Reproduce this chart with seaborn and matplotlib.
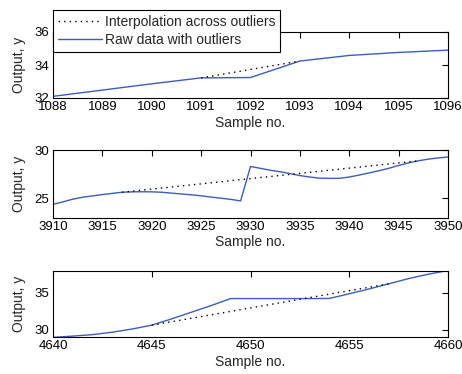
import numpy as np
import pandas as pd
import matplotlib
matplotlib.use("Agg")
import matplotlib.pyplot as plt
import seaborn as sns

# --- segment 1: samples 1088-1096 ---
x1 = [1088, 1089, 1090, 1091, 1092, 1093, 1094, 1095, 1096]
raw1 = [32.10, 32.48, 32.86, 33.22, 33.24, 34.24, 34.58, 34.76, 34.90]
interp_x1 = [1091, 1093]
interp_y1 = [33.22, 34.24]

# --- segment 2: samples 3910-3950 ---
x2 = list(range(3910, 3951))
raw2 = [24.37, 24.62, 24.90, 25.10, 25.24, 25.38, 25.50, 25.62, 25.66, 25.67,
        25.66, 25.62, 25.53, 25.44, 25.35, 25.25, 25.12, 25.00, 24.88, 24.72,
        28.29, 28.10, 27.90, 27.75, 27.55, 27.35, 27.20, 27.08, 27.06, 27.06,
        27.20, 27.40, 27.62, 27.85, 28.10, 28.40, 28.66, 28.88, 29.05, 29.18,
        29.27]
interp_x2 = [3917, 3947]
interp_y2 = [25.62, 28.88]

# --- segment 3: samples 4640-4660 ---
x3 = list(range(4640, 4661))
raw3 = [28.95, 29.12, 29.32, 29.65, 30.08, 30.60, 31.45, 32.35, 33.25, 34.20,
        34.20, 34.20, 34.20, 34.20, 34.22, 34.85, 35.50, 36.20, 36.90, 37.50,
        38.00]
interp_x3 = [4645, 4657]
interp_y3 = [30.60, 36.20]

xticks1 = [1088, 1089, 1090, 1091, 1092, 1093, 1094, 1095, 1096]
xticks2 = [3910, 3915, 3920, 3925, 3930, 3935, 3940, 3945, 3950]
xticks3 = [4640, 4645, 4650, 4655, 4660]
yticks1 = [32, 34, 36]
yticks2 = [25, 30]
yticks3 = [30, 35]

label_interp = "Interpolation across outliers"
label_raw = "Raw data with outliers"

sns.set_style("white")
plt.rcParams["font.family"] = ["Liberation Sans", "DejaVu Sans"]
plt.rcParams["font.size"] = 10

BLUE = "#3b5cc4"

fig = plt.figure(figsize=(4.62, 3.74), dpi=100)
W, H = 462.0, 374.0

def add_axes(top, bottom, left=53, right=448):
    return fig.add_axes([left / W, 1 - bottom / H, (right - left) / W, (bottom - top) / H])

panels = [
    (add_axes(32, 98), x1, raw1, interp_x1, interp_y1, xticks1, yticks1, (1088, 1096), (32, 36)),
    (add_axes(150, 217.5), x2, raw2, interp_x2, interp_y2, xticks2, yticks2, (3910, 3950), (23, 30)),
    (add_axes(270.5, 337), x3, raw3, interp_x3, interp_y3, xticks3, yticks3, (4640, 4660), (29, 38)),
]

handles = None
for ax, xs, ys, ix, iy, xt, yt, xl, yl in panels:
    df_raw = pd.DataFrame({"Sample": xs, "Output": ys})
    df_int = pd.DataFrame({"Sample": ix, "Output": iy})
    sns.lineplot(data=df_raw, x="Sample", y="Output", ax=ax, color=BLUE,
                 linewidth=1.0, label=label_raw, legend=False, zorder=2)
    sns.lineplot(data=df_int, x="Sample", y="Output", ax=ax, color="black",
                 linewidth=1.0, linestyle=(0, (1, 3)), label=label_interp,
                 legend=False, zorder=3)
    ax.set_xlim(*xl)
    ax.set_ylim(*yl)
    ax.set_xticks(xt)
    ax.set_yticks(yt)
    ax.set_xticklabels([str(t) for t in xt])
    ax.set_yticklabels([str(t) for t in yt])
    ax.tick_params(direction="in", length=4, width=0.8, top=True, right=True,
                   labelsize=9.5, pad=2.5, colors="black")
    for sp in ax.spines.values():
        sp.set_visible(True)
        sp.set_color("black")
        sp.set_linewidth(0.8)
    ax.set_xlabel("Sample no.", fontsize=10, labelpad=1.5)
    ax.set_ylabel("Output, y", fontsize=10, labelpad=6)
    if handles is None:
        lines = ax.get_lines()
        handles = [lines[1], lines[0]]

leg = fig.legend(handles, [label_interp, label_raw], loc="upper left",
                 bbox_to_anchor=(53 / W, 1 - 10 / H), borderaxespad=0,
                 fontsize=10, frameon=True, fancybox=False, framealpha=1,
                 edgecolor="black", facecolor="white", handlelength=3.2,
                 handletextpad=0.2, borderpad=0.35, labelspacing=0.3)
leg.get_frame().set_linewidth(0.8)

fig.savefig("out.png", dpi=100)
